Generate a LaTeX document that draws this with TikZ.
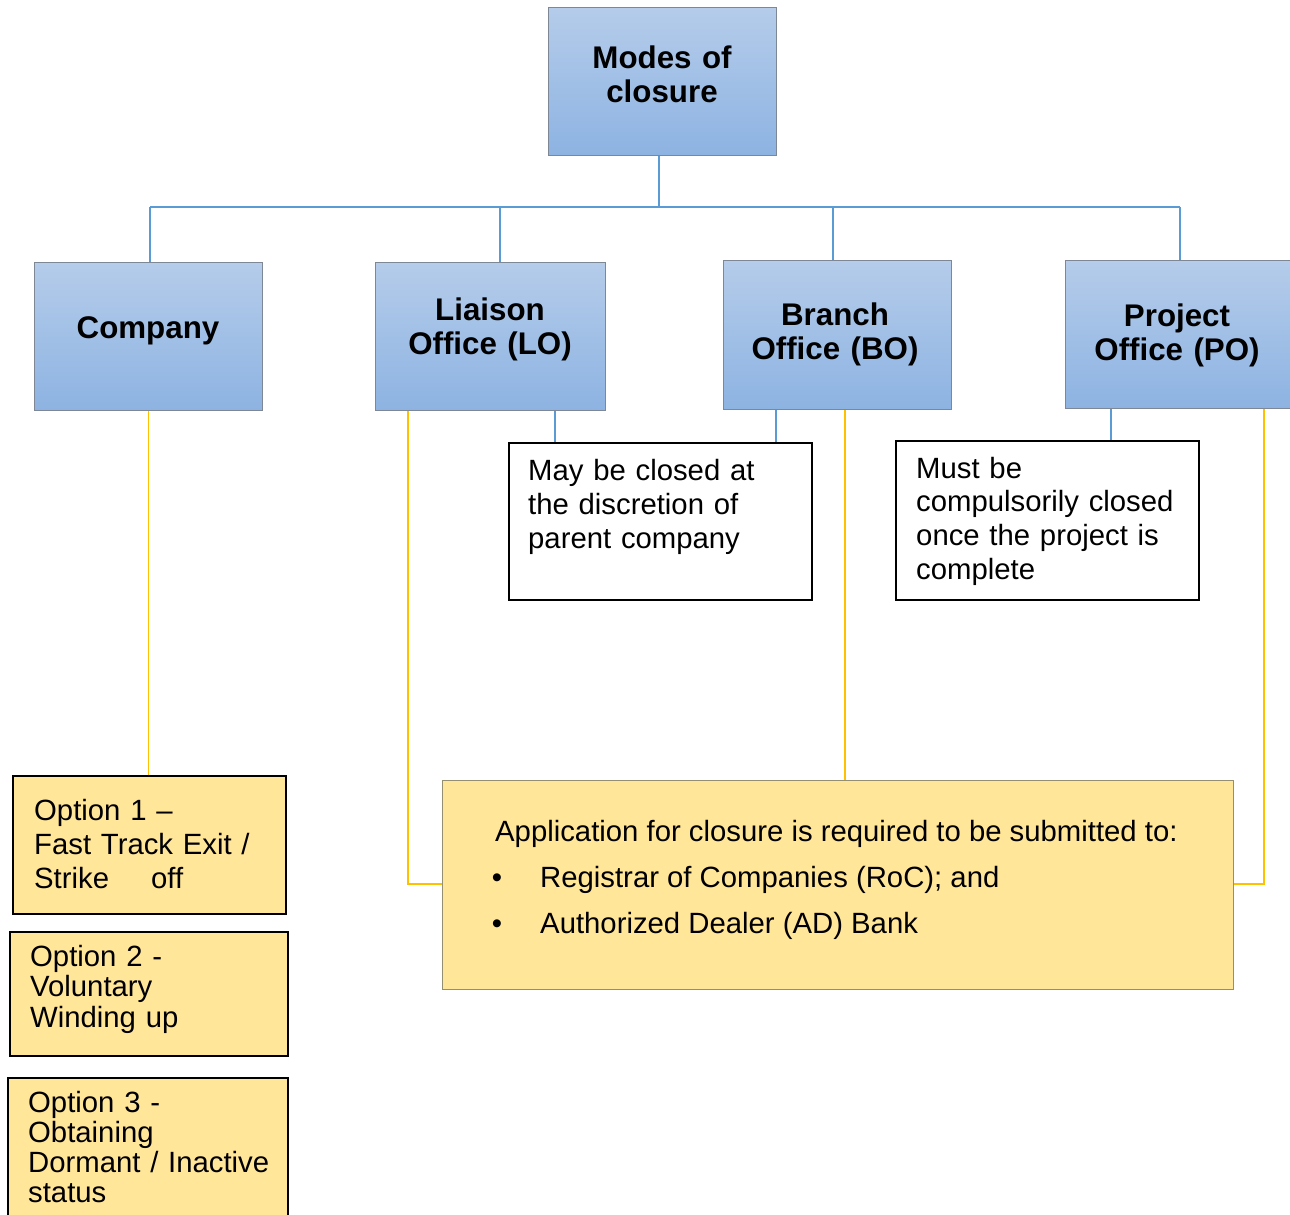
\documentclass[tikz,border=0pt]{standalone}
\usepackage{fontspec}
\setmainfont{Liberation Sans}
\definecolor{blueTop}{HTML}{B5CCEA}
\definecolor{blueBot}{HTML}{8DB3E2}
\definecolor{boxEdge}{HTML}{7D8796}
\definecolor{yellowFill}{HTML}{FFE699}
\definecolor{appEdge}{HTML}{948F6E}
\definecolor{blueLine}{HTML}{5B9BD5}
\definecolor{yellowLine}{HTML}{FFC000}
\begin{document}
\begin{tikzpicture}[x=1pt,y=1pt,
  bluebox/.style={draw=boxEdge, line width=1.2pt, top color=blueTop, bottom color=blueBot,
    minimum width=228, minimum height=148, anchor=north west, inner sep=0},
  notebox/.style={draw=black, line width=1.5pt, fill=white, anchor=north west, inner sep=0, minimum width=303},
  optbox/.style={draw=black, line width=2.2pt, fill=yellowFill, anchor=north west, inner sep=0},
  appbox/.style={draw=appEdge, line width=1.3pt, fill=yellowFill, anchor=north west, inner sep=0},
  ttl/.style={anchor=base, align=center, inner sep=0, font=\bfseries\fontsize{31.3}{34}\selectfont},
  body/.style={anchor=base west, align=left, inner sep=0, font=\fontsize{29.3}{34}\selectfont},
  bl/.style={draw=blueLine, line width=1.5pt},
  yl/.style={draw=yellowLine, line width=1.5pt}]
\useasboundingbox (0,0) rectangle (1290,-1215);

% blue boxes
\node[bluebox] (modes) at (548,-7) {};
\node[bluebox] (comp) at (34,-262) {};
\node[bluebox, minimum width=230] (lo) at (375,-262) {};
\node[bluebox, minimum height=149] (bo) at (723,-260) {};
\node[bluebox, minimum width=240] (po) at (1065,-260) {};

\node[ttl, text width=228] (modesT) at (662,-68) {Modes of\\closure};
\node[ttl, text width=228] (compT) at (148,-338) {Company};
\node[ttl, text width=228] (loT) at (490,-320) {Liaison\\Office (LO)};
\node[ttl, text width=228] (boT) at (835,-325) {Branch\\Office (BO)};
\node[ttl, text width=228] (poT) at (1177,-326) {Project\\Office (PO)};

% note boxes
\node[notebox, minimum height=157] (lonote) at (508,-442) {};
\node[notebox, minimum height=159] (ponote) at (895,-440) {};
\node[body, text width=280] (lonoteT) at (528,-480) {May be closed at\\the discretion of\\parent company};
\node[body, text width=280, font=\fontsize{29.3}{33.7}\selectfont] (ponoteT) at (916,-478) {Must be\\compulsorily closed\\once the project is\\complete};

% option boxes
\node[optbox, minimum width=273, minimum height=138] (opt1) at (12,-775) {};
\node[optbox, minimum width=278, minimum height=124] (opt2) at (9,-931) {};
\node[optbox, minimum width=280, minimum height=150] (opt3) at (7,-1077) {};
\node[body, text width=250] (opt1T) at (34,-820) {Option 1 –\\Fast Track Exit /\\Strike\hspace{42pt}off};
\node[body, text width=255, font=\fontsize{29.3}{30.5}\selectfont] (opt2T) at (30,-966) {Option 2 -\\Voluntary\\Winding up};
\node[body, text width=258, font=\fontsize{29.3}{30}\selectfont] (opt3T) at (28,-1112) {Option 3 -\\Obtaining\\Dormant / Inactive\\status};

% application box
\node[appbox, minimum width=791, minimum height=209] (app) at (442,-780) {};
\node[body] (appT) at (495,-841) {Application for closure is required to be submitted to:};
\node[anchor=base, inner sep=0, font=\fontsize{29.3}{34}\selectfont] (bul1) at (497,-887) {\textbullet};
\node[anchor=base, inner sep=0, font=\fontsize{29.3}{34}\selectfont] (bul2) at (497,-933) {\textbullet};
\node[body] (app1) at (540,-887) {Registrar of Companies (RoC); and};
\node[body] (app2) at (540,-933) {Authorized Dealer (AD) Bank};

% blue connectors
\coordinate (busM) at (659,-207);
\coordinate (b1) at (150,-207);
\coordinate (b2) at (500,-207);
\coordinate (b3) at (833,-207);
\coordinate (b4) at (1180,-207);
\draw[bl] (busM |- modes.south) -- (busM);
\draw[bl] (b1) -- (b4);
\draw[bl] (b1) -- (b1 |- comp.north);
\draw[bl] (b2) -- (b2 |- lo.north);
\draw[bl] (b3) -- (b3 |- bo.north);
\draw[bl] (b4) -- (b4 |- po.north);
\coordinate (x1) at (555,0);
\coordinate (x2) at (776,0);
\coordinate (x3) at (1111,0);
\draw[bl] (x1 |- lo.south) -- (x1 |- lonote.north);
\draw[bl] (x2 |- bo.south) -- (x2 |- lonote.north);
\draw[bl] (x3 |- po.south) -- (x3 |- ponote.north);

% yellow connectors
\coordinate (y1) at (408,0);
\coordinate (y2) at (845,0);
\coordinate (y3) at (1264,0);
\coordinate (yh) at (0,-884);
\draw[yl] (comp.south) -- (comp.south |- opt1.north);
\draw[yl] (y1 |- lo.south) |- (app.west |- yh);
\draw[yl] (y2 |- bo.south) -- (y2 |- app.north);
\draw[yl] (y3 |- po.south) |- (app.east |- yh);
\end{tikzpicture}
\end{document}
